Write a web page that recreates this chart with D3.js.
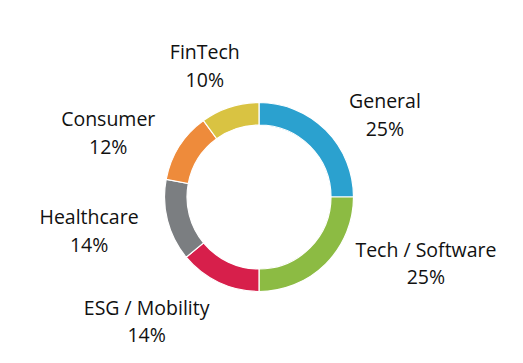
<!DOCTYPE html>
<html>
<head>
<meta charset="utf-8">
<script src="https://cdn.jsdelivr.net/npm/d3@7"></script>
<style>
  html, body { margin: 0; padding: 0; background: #fff; }
  svg text { font-family: "Open Sans", Lato, sans-serif; fill: #111; }
</style>
</head>
<body>
<div id="chart"></div>
<script>
  // 数据
  const categories = ['General', 'Tech / Software', 'ESG / Mobility', 'Healthcare', 'Consumer', 'FinTech'];
  const shares = [25, 25, 14, 14, 12, 10];
  const colors = ['#2ba1cf', '#8cbb43', '#d71f4b', '#7b7e81', '#ee8b3b', '#d9c342'];

  // 标签微调 (相对于 centroid 的偏移)
  const labelNudge = [[34, 10], [75, -25], [-57, 7], [-44, 2], [-41, 6], [-14, -7]];

  const width = 523, height = 363;
  const cx = 259, cy = 197;
  const outerR = 94.5, innerR = 72, labelR = 130;

  const svg = d3.select('#chart')
    .append('svg')
    .attr('width', width)
    .attr('height', height);

  const pie = d3.pie().sort(null).value(d => d.value);
  const arcs = pie(categories.map((c, i) => ({ name: c, value: shares[i], color: colors[i] })));

  const arc = d3.arc().innerRadius(innerR).outerRadius(outerR);
  const labelArc = d3.arc().innerRadius(labelR).outerRadius(labelR);

  const g = svg.append('g').attr('transform', `translate(${cx},${cy})`);

  g.selectAll('path')
    .data(arcs)
    .enter()
    .append('path')
    .attr('d', arc)
    .attr('fill', d => d.data.color)
    .attr('stroke', '#fff')
    .attr('stroke-width', 1.2);

  // 标签
  const labels = g.selectAll('text.lbl')
    .data(arcs)
    .enter()
    .append('text')
    .attr('class', 'lbl')
    .attr('text-anchor', 'middle')
    .attr('font-size', '19.5px')
    .attr('transform', (d, i) => {
      const [x, y] = labelArc.centroid(d);
      return `translate(${x + labelNudge[i][0]},${y + labelNudge[i][1]})`;
    });

  labels.append('tspan')
    .attr('x', 0)
    .attr('y', -7)
    .text(d => d.data.name);

  labels.append('tspan')
    .attr('x', 0)
    .attr('y', 20.5)
    .text(d => d.data.value + '%');
</script>
</body>
</html>
